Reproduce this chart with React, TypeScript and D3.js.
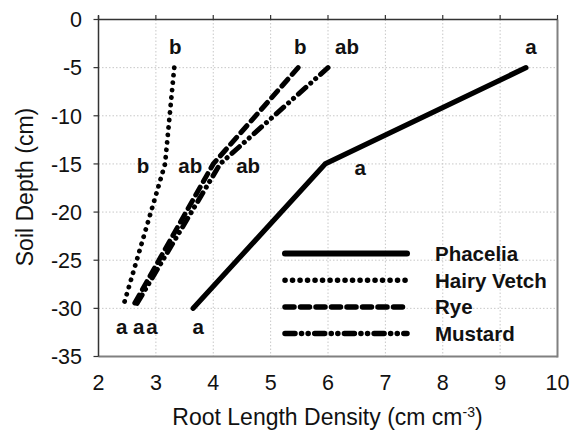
import React from "react";
import * as d3 from "d3";

const depths = [-5, -15, -30];
const phacelia = [9.45, 5.95, 3.65];
const hairyVetch = [3.32, 3.16, 2.42];
const rye = [5.48, 4.0, 2.58];
const mustard = [6.0, 4.12, 2.62];

const phaceliaLetters = ["a", "a", "a"];
const hairyVetchLetters = ["b", "b", "a"];
const ryeLetters = ["b", "ab", "a"];
const mustardLetters = ["ab", "ab", "a"];

const seriesNames = ["Phacelia", "Hairy Vetch", "Rye", "Mustard"];
const xTicks = [2, 3, 4, 5, 6, 7, 8, 9, 10];
const yTicks = [0, -5, -10, -15, -20, -25, -30, -35];

const W = 575;
const H = 434;
const left = 98.5;
const right = 557.5;
const top = 19.5;
const bottom = 356.5;

const styles = [
  { width: 5.2, dash: "none", cap: "round" },
  { width: 4.8, dash: "0.1 7.4", cap: "round" },
  { width: 5, dash: "9 6.5", cap: "round" },
  { width: 5, dash: "10 6.5 0.1 6.5 0.1 6.5", cap: "round" },
];

// label offsets (px) per series per depth
const labelOffsets = [
  [[5, -21], [35, 4], [5, 18]],
  [[1, -21], [-22, 2], [-1, 18]],
  [[2, -21], [-23, 2], [7, 18]],
  [[19, -21], [28, 2], [18, 18]],
];

export default function App() {
  const x = d3.scaleLinear().domain([2, 10]).range([left, right]);
  const y = d3.scaleLinear().domain([0, -35]).range([top, bottom]);

  const allSeries = [phacelia, hairyVetch, rye, mustard];
  const allLetters = [phaceliaLetters, hairyVetchLetters, ryeLetters, mustardLetters];

  const line = d3
    .line<[number, number]>()
    .x((d) => x(d[0]))
    .y((d) => y(d[1]));

  const font = "'Liberation Sans', Arial, sans-serif";

  const legendX1 = 285;
  const legendX2 = 407;
  const legendY0 = 253.5;
  const legendStep = 26.7;

  return (
    <svg width={W} height={H} style={{ position: "absolute", left: 0, top: 0, background: "#fff" }}>
      <rect x={0} y={0} width={W} height={H} fill="#fff" />
      {/* grid */}
      {xTicks.slice(1, -1).map((t) => (
        <line key={"gx" + t} x1={x(t)} x2={x(t)} y1={top} y2={bottom} stroke="#c8c8c8" strokeWidth={1} strokeDasharray="1.5 2" />
      ))}
      {yTicks.slice(1, -1).map((t) => (
        <line key={"gy" + t} x1={left} x2={right} y1={y(t)} y2={y(t)} stroke="#c8c8c8" strokeWidth={1} strokeDasharray="1.5 2" />
      ))}
      {/* border */}
      <line x1={left} x2={right} y1={bottom} y2={bottom} stroke="#808080" strokeWidth={2} />
      <line x1={right} x2={right} y1={top} y2={bottom + 1} stroke="#808080" strokeWidth={2} />
      {/* axes */}
      <line x1={left} x2={right} y1={top} y2={top} stroke="#333" strokeWidth={1.5} />
      {xTicks.map((t) => (
        <line key={"tx" + t} x1={x(t)} x2={x(t)} y1={top - 4.5} y2={top} stroke="#333" strokeWidth={1.2} />
      ))}
      <line x1={left} x2={left} y1={top - 4} y2={bottom} stroke="#333" strokeWidth={1.5} />
      {yTicks.map((t) => (
        <line key={"ty" + t} x1={left - 5} x2={left} y1={y(t)} y2={y(t)} stroke="#333" strokeWidth={1.2} />
      ))}
      {/* tick labels */}
      {xTicks.map((t) => (
        <text key={"lx" + t} x={x(t)} y={389.5} textAnchor="middle" fontFamily={font} fontSize={21.5} fill="#111">
          {t}
        </text>
      ))}
      {yTicks.map((t) => (
        <text key={"ly" + t} x={82} y={y(t)} dy="0.36em" textAnchor="end" fontFamily={font} fontSize={21.5} fill="#111">
          {t === 0 ? "0" : "-" + Math.abs(t)}
        </text>
      ))}
      {/* axis titles */}
      <text x={327.5} y={425} textAnchor="middle" fontFamily={font} fontSize={23} fill="#111">
        Root Length Density (cm cm
        <tspan dy={-8} fontSize={14}>-3</tspan>
        <tspan dy={8}>)</tspan>
      </text>
      <text transform={`translate(33,187) rotate(-90)`} textAnchor="middle" fontFamily={font} fontSize={23} fill="#111">
        Soil Depth (cm)
      </text>
      {/* series */}
      {allSeries.map((vals, i) => (
        <path
          key={"s" + i}
          d={line(vals.map((v, j) => [v, depths[j]] as [number, number])) || ""}
          fill="none"
          stroke="#000"
          strokeWidth={styles[i].width}
          strokeDasharray={styles[i].dash}
          strokeLinecap={styles[i].cap as any}
          strokeLinejoin="round"
        />
      ))}
      {/* significance letters */}
      {allSeries.map((vals, i) =>
        vals.map((v, j) => (
          <text
            key={"L" + i + "-" + j}
            x={x(v) + labelOffsets[i][j][0]}
            y={y(depths[j]) + labelOffsets[i][j][1]}
            dy="0.36em"
            textAnchor="middle"
            fontFamily={font}
            fontWeight="bold"
            fontSize={20.5}
            fill="#111"
          >
            {allLetters[i][j]}
          </text>
        ))
      )}
      {/* legend */}
      {seriesNames.map((name, i) => (
        <g key={"leg" + i}>
          <line
            x1={legendX1}
            x2={legendX2}
            y1={legendY0 + i * legendStep}
            y2={legendY0 + i * legendStep}
            stroke="#000"
            strokeWidth={i === 0 ? 6 : 5.5}
            strokeDasharray={styles[i].dash}
            strokeLinecap="round"
          />
          <text x={435} y={legendY0 + i * legendStep} dy="0.36em" fontFamily={font} fontWeight="bold" fontSize={20.5} fill="#111">
            {name}
          </text>
        </g>
      ))}
    </svg>
  );
}
